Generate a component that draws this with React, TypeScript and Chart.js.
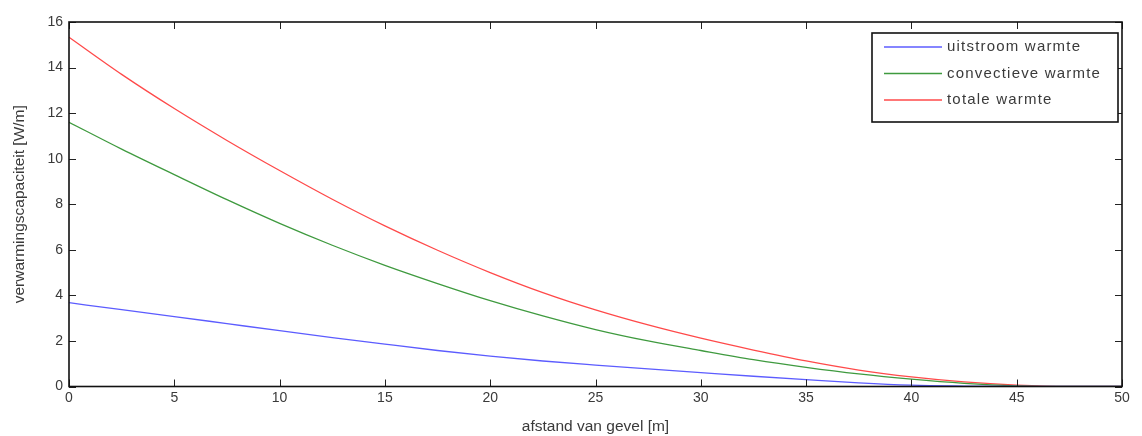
import React, { useEffect, useRef } from "react";
import { Chart, registerables } from "chart.js";

Chart.register(...registerables);

const distances = [0, 2.5, 5, 7.5, 10, 12.5, 15, 17.5, 20, 22.5, 25, 27.5, 30, 32.5, 35, 37.5, 40, 42.5, 45, 47.5, 50];
const uitstroom = [3.68, 3.37, 3.07, 2.76, 2.45, 2.15, 1.86, 1.58, 1.33, 1.12, 0.94, 0.77, 0.61, 0.45, 0.3, 0.16, 0.06, 0.02, 0, 0, 0];
const convectief = [11.6, 10.42, 9.3, 8.2, 7.16, 6.2, 5.32, 4.52, 3.77, 3.1, 2.5, 2.0, 1.58, 1.18, 0.84, 0.55, 0.32, 0.14, 0.03, 0, 0];
const totaal = [15.33, 13.7, 12.2, 10.8, 9.48, 8.22, 7.05, 5.98, 5.0, 4.12, 3.36, 2.7, 2.12, 1.6, 1.12, 0.72, 0.42, 0.2, 0.06, 0, 0];
const seriesLabels = ["uitstroom warmte", "convectieve warmte", "totale warmte"];
const xTitle = "afstand van gevel [m]";
const yTitle = "verwarmingscapaciteit [W/m]";

const FONT = "'Liberation Sans', Arial, sans-serif";
const TEXT = "#3a3a3a";

const framePlugin = {
  id: "matlabFrame",
  afterDraw(chart: any) {
    const ctx = chart.ctx;
    const a = chart.chartArea;
    const xs = chart.scales.x;
    const ys = chart.scales.y;
    ctx.save();
    ctx.strokeStyle = "#222";
    ctx.lineWidth = 1;
    const tl = 7;
    xs.ticks.forEach((t: any) => {
      const px = Math.round(xs.getPixelForValue(t.value)) + 0.5;
      ctx.beginPath();
      ctx.moveTo(px, a.bottom);
      ctx.lineTo(px, a.bottom - tl);
      ctx.moveTo(px, a.top);
      ctx.lineTo(px, a.top + tl);
      ctx.stroke();
    });
    ys.ticks.forEach((t: any) => {
      const py = Math.round(ys.getPixelForValue(t.value)) + 0.5;
      ctx.beginPath();
      ctx.moveTo(a.left, py);
      ctx.lineTo(a.left + tl, py);
      ctx.moveTo(a.right, py);
      ctx.lineTo(a.right - tl, py);
      ctx.stroke();
    });
    ctx.lineWidth = 1.6;
    ctx.strokeStyle = "#111";
    ctx.strokeRect(a.left, a.top, a.right - a.left, a.bottom - a.top);

    // legend box
    const lx = 872, ly = 33, lw = 246, lh = 89;
    ctx.fillStyle = "#fff";
    ctx.fillRect(lx, ly, lw, lh);
    ctx.lineWidth = 1.6;
    ctx.strokeStyle = "#111";
    ctx.strokeRect(lx, ly, lw, lh);
    ctx.font = "15px " + FONT;
    try { (ctx as any).letterSpacing = "1.2px"; } catch (e) {}
    ctx.textBaseline = "middle";
    ctx.textAlign = "left";
    chart.data.datasets.forEach((ds: any, i: number) => {
      const y = ly + 14 + i * 26.5;
      ctx.strokeStyle = ds.borderColor;
      ctx.lineWidth = 1.5;
      ctx.beginPath();
      ctx.moveTo(884, y);
      ctx.lineTo(942, y);
      ctx.stroke();
      ctx.fillStyle = TEXT;
      ctx.fillText(ds.label, 947, y);
    });
    try { (ctx as any).letterSpacing = "0px"; } catch (e) {}
    ctx.restore();
  },
};

export default function App() {
  const ref = useRef<HTMLCanvasElement>(null);
  useEffect(() => {
    document.body.style.margin = "0";
    const mk = (vals: number[]) => distances.map((d, i) => ({ x: d, y: vals[i] }));
    const colors = ["#5c5cff", "#3f9a3f", "#ff4a4a"];
    const chart = new Chart(ref.current!, {
      type: "line",
      data: {
        datasets: [uitstroom, convectief, totaal].map((v, i) => ({
          label: seriesLabels[i],
          data: mk(v),
          borderColor: colors[i],
          borderWidth: 1.3,
          pointRadius: 0,
          cubicInterpolationMode: "monotone" as const,
          fill: false,
        })),
      },
      options: {
        animation: false,
        responsive: false,
        layout: { padding: { top: 22, right: 20, left: 0, bottom: 0 } },
        plugins: { legend: { display: false }, tooltip: { enabled: false } },
        scales: {
          x: {
            type: "linear",
            min: 0,
            max: 50,
            ticks: { stepSize: 5, color: TEXT, font: { family: FONT, size: 14 }, padding: 3, maxRotation: 0 },
            grid: { display: false, drawTicks: false },
            border: { display: false },
            title: { display: true, text: xTitle, color: TEXT, font: { family: FONT, size: 15.5 }, padding: { top: 3, bottom: 0 } },
            afterFit: (s: any) => { s.height = 49.5; },
          },
          y: {
            type: "linear",
            min: 0,
            max: 16,
            ticks: { stepSize: 2, color: TEXT, font: { family: FONT, size: 14 }, padding: 6 },
            grid: { display: false, drawTicks: false },
            border: { display: false },
            title: { display: true, text: yTitle, color: TEXT, font: { family: FONT, size: 15.5 }, padding: { top: 10, bottom: 0 } },
            afterFit: (s: any) => { s.width = 69; },
          },
        },
      },
      plugins: [framePlugin],
    });
    return () => chart.destroy();
  }, []);
  return (
    <div style={{ position: "absolute", left: 0, top: 0, width: 1142, height: 436, background: "#fff" }}>
      <canvas ref={ref} width={1142} height={436} style={{ width: 1142, height: 436 }} />
    </div>
  );
}
